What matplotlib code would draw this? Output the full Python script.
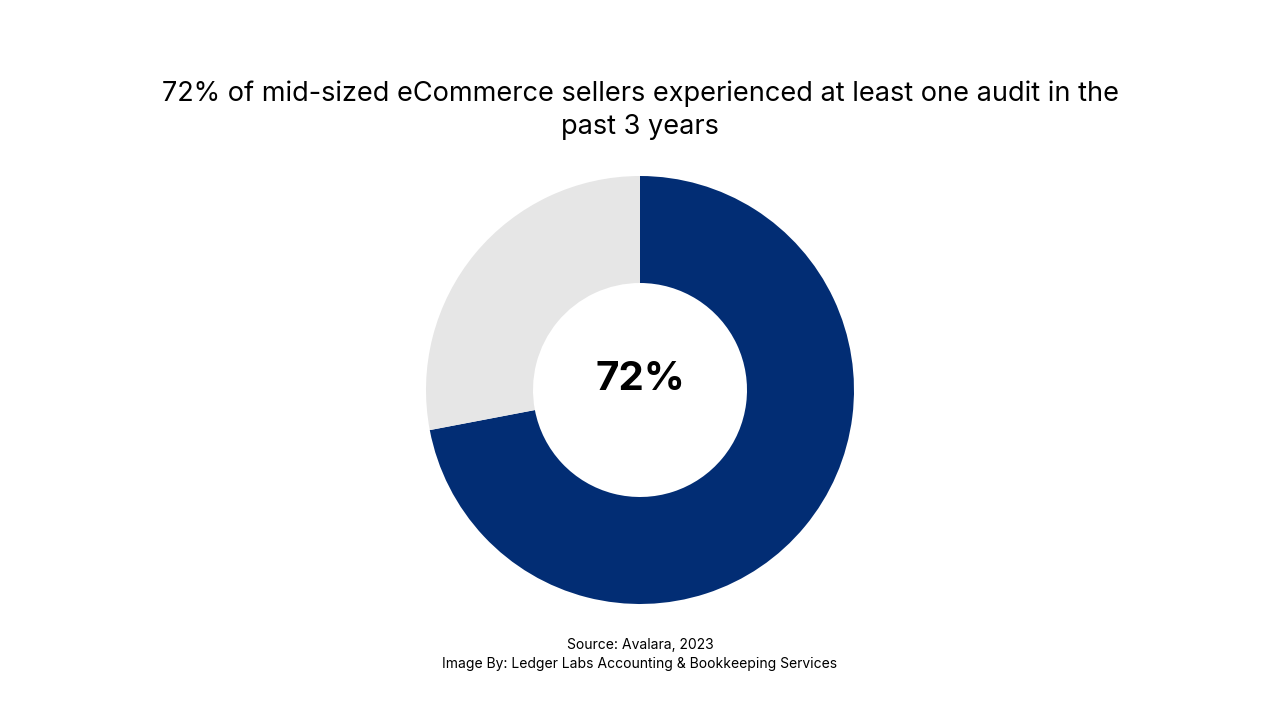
import matplotlib
matplotlib.use("Agg")
import matplotlib.pyplot as plt

labels = ["Audited", "Not audited"]
values = [72, 28]
colors = ["#022D74", "#E6E6E6"]
title = "72% of mid-sized eCommerce sellers experienced at least one audit in the\npast 3 years"
center_text = "72%"

fig = plt.figure(figsize=(12.8, 7.2), dpi=100)
fig.patch.set_facecolor("white")
ax = fig.add_axes([(640-214)/1280, (330-214)/720, 428/1280, 428/720])
ax.pie(values, colors=colors, startangle=90, counterclock=False,
       wedgeprops=dict(width=0.5, linewidth=0))
ax.set_xlim(-1, 1)
ax.set_ylim(-1, 1)
ax.set_aspect("equal")
ax.text(0, 0.05, center_text, ha="center", va="center", fontsize=29,
        fontweight="bold", family="Inter")
fig.text(0.5, 1-110/720, title, ha="center", va="center", fontsize=19.5,
         family="Inter", linespacing=1.35)
fig.text(0.5, 1-645/720, "Source: Avalara, 2023", ha="center", va="center",
         fontsize=10, family="Inter")
fig.text(0.5, 1-664/720, "Image By: Ledger Labs Accounting & Bookkeeping Services",
         ha="center", va="center", fontsize=10, family="Inter")
fig.savefig("out.png", dpi=100, facecolor="white")
